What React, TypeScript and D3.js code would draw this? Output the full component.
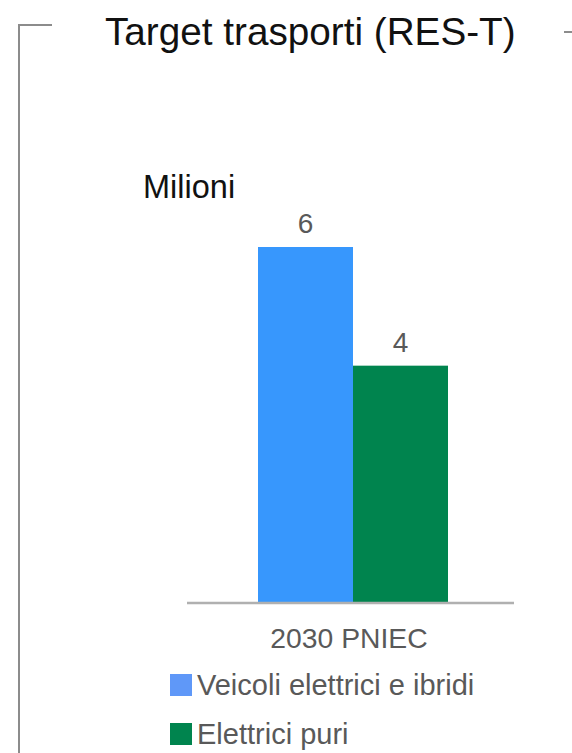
import React from "react";
import * as d3 from "d3";

const categories = ["2030 PNIEC"];
const seriesNames = ["Veicoli elettrici e ibridi", "Elettrici puri"];
const seriesValues = [6, 4];
const barColors = ["#3797FD", "#00844E"];
const legendColors = ["#5F98F8", "#00844E"];
const titleText = "Target trasporti (RES-T)";
const unitText = "Milioni";

const W = 572;
const H = 753;
const FONT = "'Liberation Sans', Arial, sans-serif";

export default function App() {
  const y = d3.scaleLinear().domain([0, 6]).range([603, 247]);
  const groupStart = 258;
  const groupEnd = 448;
  const xSeries = d3.scaleBand().domain(seriesNames).range([groupStart, groupEnd]).padding(0);

  return (
    <svg
      width={W}
      height={H}
      style={{ position: "absolute", left: 0, top: 0, background: "#fff" }}
      fontFamily={FONT}
    >
      <rect x={0} y={0} width={W} height={H} fill="#fff" />
      <path d="M52,25 H19 V753" fill="none" stroke="#8c8c8c" strokeWidth={2} />
      <line x1={564} x2={572} y1={32} y2={32} stroke="#8c8c8c" strokeWidth={2} />
      <text x={105} y={45} fontSize={38.7} fill="#111">{titleText}</text>
      <text x={143} y={198} fontSize={32.5} fill="#111">{unitText}</text>

      {seriesNames.map((s, i) => (
        <g key={s}>
          <rect
            x={xSeries(s)}
            y={y(seriesValues[i])}
            width={xSeries.bandwidth()}
            height={y(0) - y(seriesValues[i])}
            fill={barColors[i]}
          />
          <text
            x={(xSeries(s) as number) + xSeries.bandwidth() / 2}
            y={y(seriesValues[i]) - 14}
            fontSize={28}
            fill="#595959"
            textAnchor="middle"
          >
            {seriesValues[i]}
          </text>
        </g>
      ))}

      <line x1={187} x2={514} y1={y(0)} y2={y(0)} stroke="#b0b0b0" strokeWidth={2.5} />
      {categories.map((c) => (
        <text
          key={c}
          x={(groupStart + groupEnd) / 2 - 4}
          y={648}
          fontSize={28.3}
          fill="#595959"
          textAnchor="middle"
        >
          {c}
        </text>
      ))}

      {seriesNames.map((s, i) => (
        <g key={"leg" + s} transform={`translate(170, ${674 + i * 49})`}>
          <rect x={0} y={0} width={22} height={22} fill={legendColors[i]} />
          <text x={27} y={21} fontSize={29} fill="#595959">{s}</text>
        </g>
      ))}
    </svg>
  );
}
